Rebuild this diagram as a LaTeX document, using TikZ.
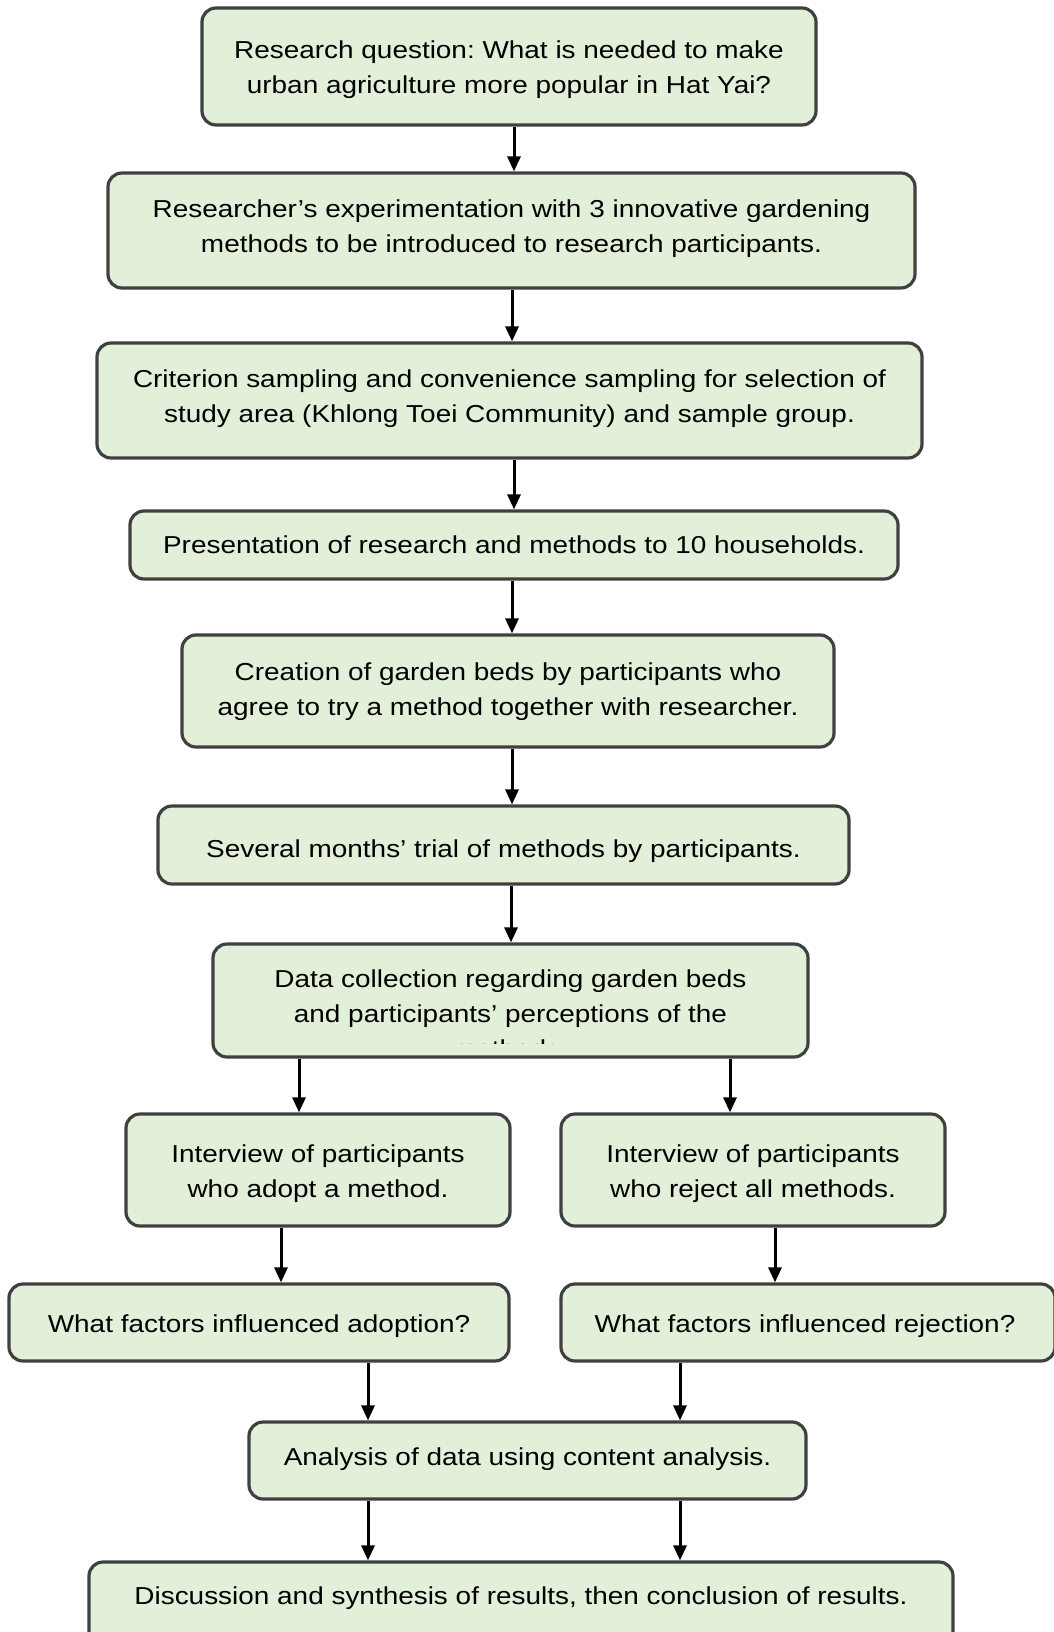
\documentclass[tikz,border=0pt]{standalone}
\usepackage{fontspec}
\setmainfont{Liberation Sans}[FakeStretch=1.14]
\usetikzlibrary{arrows.meta}
\frenchspacing
\definecolor{boxfill}{HTML}{E2F0D9}
\definecolor{boxline}{HTML}{404040}
\tikzset{
  box/.style={draw=boxline, fill=boxfill, line width=3.2pt, rounded corners=14pt,
    inner sep=0pt},
  txt/.style={align=center, inner sep=0pt, font=\fontsize{24.5}{35}\selectfont},
  arr/.style={draw=black, line width=3pt, -{Triangle[length=15pt,width=13pt]}}
}
\begin{document}
\begin{tikzpicture}[x=1pt,y=-1pt]
\useasboundingbox (0,0) rectangle (1053,1632);
\node[box, minimum width=614pt, minimum height=117pt] (b1) at (509,66.5) {};
\node[txt, yshift=-3pt] (t1) at (b1)
  {Research question: What is needed to make\\urban agriculture more popular in Hat Yai?};
\node[box, minimum width=807pt, minimum height=115pt] (b2) at (511.5,230.5) {};
\node[txt, yshift=2pt] (t2) at (b2)
  {Researcher’s experimentation with 3 innovative gardening\\methods to be introduced to research participants.};
\node[box, minimum width=825pt, minimum height=115pt] (b3) at (509.5,400.5) {};
\node[txt, yshift=2pt] (t3) at (b3)
  {Criterion sampling and convenience sampling for selection of\\study area (Khlong Toei Community) and sample group.};
\node[box, minimum width=768pt, minimum height=68pt] (b4) at (514,545) {};
\node[txt] (t4) at (b4)
  {Presentation of research and methods to 10 households.};
\node[box, minimum width=652pt, minimum height=112pt] (b5) at (508,691) {};
\node[txt, yshift=-1pt] (t5) at (b5)
  {Creation of garden beds by participants who\\agree to try a method together with researcher.};
\node[box, minimum width=691pt, minimum height=78pt] (b6) at (503.5,845) {};
\node[txt, yshift=-6pt] (t6) at (b6)
  {Several months’ trial of methods by participants.};
\node[box, minimum width=595pt, minimum height=113pt] (b7) at (510.5,1000.5) {};
\begin{scope}
  \clip (213,944) rectangle (808,1043);
  \node[txt] (t7) at (510.5,1014)
    {Data collection regarding garden beds\\and participants’ perceptions of the\\methods.};
\end{scope}
\node[box, minimum width=384pt, minimum height=112pt] (b8l) at (318,1170) {};
\node[txt, yshift=-4pt] (t8l) at (b8l)
  {Interview of participants\\who adopt a method.};
\node[box, minimum width=384pt, minimum height=112pt] (b8r) at (753,1170) {};
\node[txt, yshift=-4pt] (t8r) at (b8r)
  {Interview of participants\\who reject all methods.};
\node[box, minimum width=500pt, minimum height=77pt] (b9l) at (259,1322.5) {};
\node[txt, yshift=-4pt] (t9l) at (b9l)
  {What factors influenced adoption?};
\node[box, minimum width=494pt, minimum height=77pt] (b9r) at (808,1322.5) {};
\node[txt, yshift=-4pt] (t9r) at (805,1322.5)
  {What factors influenced rejection?};
\node[box, minimum width=557pt, minimum height=77pt] (b10) at (527.5,1460.5) {};
\node[txt, yshift=1pt] (t10) at (b10)
  {Analysis of data using content analysis.};
\node[box, minimum width=864pt, minimum height=90pt] (b11) at (521,1607) {};
\node[txt] (t11) at (521,1598)
  {Discussion and synthesis of results, then conclusion of results.};

\draw[arr] (b1.south -| 514,0) -- (b2.north -| 514,0);
\draw[arr] (b2.south -| 512,0) -- (b3.north -| 512,0);
\draw[arr] (b3.south -| 514,0) -- (b4.north -| 514,0);
\draw[arr] (b4.south -| 512,0) -- (b5.north -| 512,0);
\draw[arr] (b5.south -| 512,0) -- (b6.north -| 512,0);
\draw[arr] (b6.south -| 511,0) -- (b7.north -| 511,0);
\draw[arr] (b7.south -| 299,0) -- (b8l.north -| 299,0);
\draw[arr] (b7.south -| 730,0) -- (b8r.north -| 730,0);
\draw[arr] (b8l.south -| 281,0) -- (b9l.north -| 281,0);
\draw[arr] (b8r.south -| 775,0) -- (b9r.north -| 775,0);
\draw[arr] (b9l.south -| 368,0) -- (b10.north -| 368,0);
\draw[arr] (b9r.south -| 680,0) -- (b10.north -| 680,0);
\draw[arr] (b10.south -| 368,0) -- (b11.north -| 368,0);
\draw[arr] (b10.south -| 680,0) -- (b11.north -| 680,0);
\end{tikzpicture}
\end{document}
